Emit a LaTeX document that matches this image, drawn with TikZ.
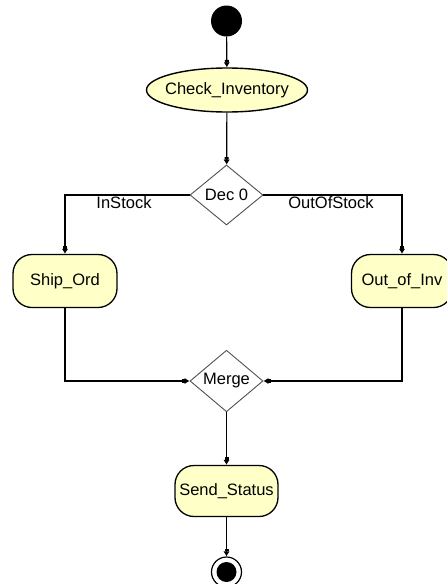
\documentclass[tikz,border=0pt]{standalone}
\usepackage{fontspec}
\setmainfont{Liberation Sans}
\usetikzlibrary{shapes.geometric,arrows.meta}
\definecolor{actfill}{RGB}{255,255,200}
\definecolor{diagray}{RGB}{80,80,80}
\tikzset{
  x=1pt, y=-1pt,
  every node/.style={font=\fontsize{16.5}{19}\selectfont, inner sep=0pt},
  conn/.style={draw=black, line width=1.2pt, -{Square[length=2.5pt,width=4pt] Latex[length=5pt,width=6.5pt]}},
  startnode/.style={circle, fill=black, minimum size=31pt},
  actell/.style={ellipse, draw=black, line width=1.4pt, fill=actfill, minimum width=161pt, minimum height=44pt},
  act/.style={rectangle, rounded corners=19pt, draw=black, line width=1.3pt, fill=actfill, minimum width=104pt, minimum height=53pt},
  decbox/.style={diamond, draw=diagray, line width=0.9pt, fill=white, minimum width=73pt, minimum height=60pt},
  endouter/.style={circle, draw=black, line width=1.2pt, fill=white, minimum size=30pt},
  lbl/.style={}
}
\begin{document}
\begin{tikzpicture}
\useasboundingbox[fill=white] (0,0) rectangle (447,584);
\node[startnode] (start) at (226.5,21) {};
\node[actell, label=center:{Check\_Inventory}] (check) at (227,90) {};
\node[decbox] (dec) at (226.5,195) {Dec 0};
\node[act] (ship) at (65,281) {Ship\_Ord};
\node[act, minimum width=101pt] (out) at (402,281) {Out\_of\_Inv};
\node[decbox, minimum height=59pt] (merge) at (226.5,381) {Merge};
\node[act, minimum width=103pt, minimum height=51pt] (send) at (226.5,491) {Send\_Status};
\node[endouter] (end) at (226.5,572) {};
\fill[black] (end.center) circle[radius=10pt];
\node[lbl] (lin) at (124,203) {InStock};
\node[lbl] (lout) at (331,203) {OutOfStock};
\draw[conn] (start) -- (check);
\draw[conn] (check) -- (dec);
\draw[conn] (dec.west) -| (ship.north);
\draw[conn] (dec.east) -| (out.north);
\draw[conn] (ship.south) |- (merge.west);
\draw[conn] (out.south) |- (merge.east);
\draw[conn] (merge) -- (send);
\draw[conn] (send) -- (end);
\end{tikzpicture}
\end{document}
